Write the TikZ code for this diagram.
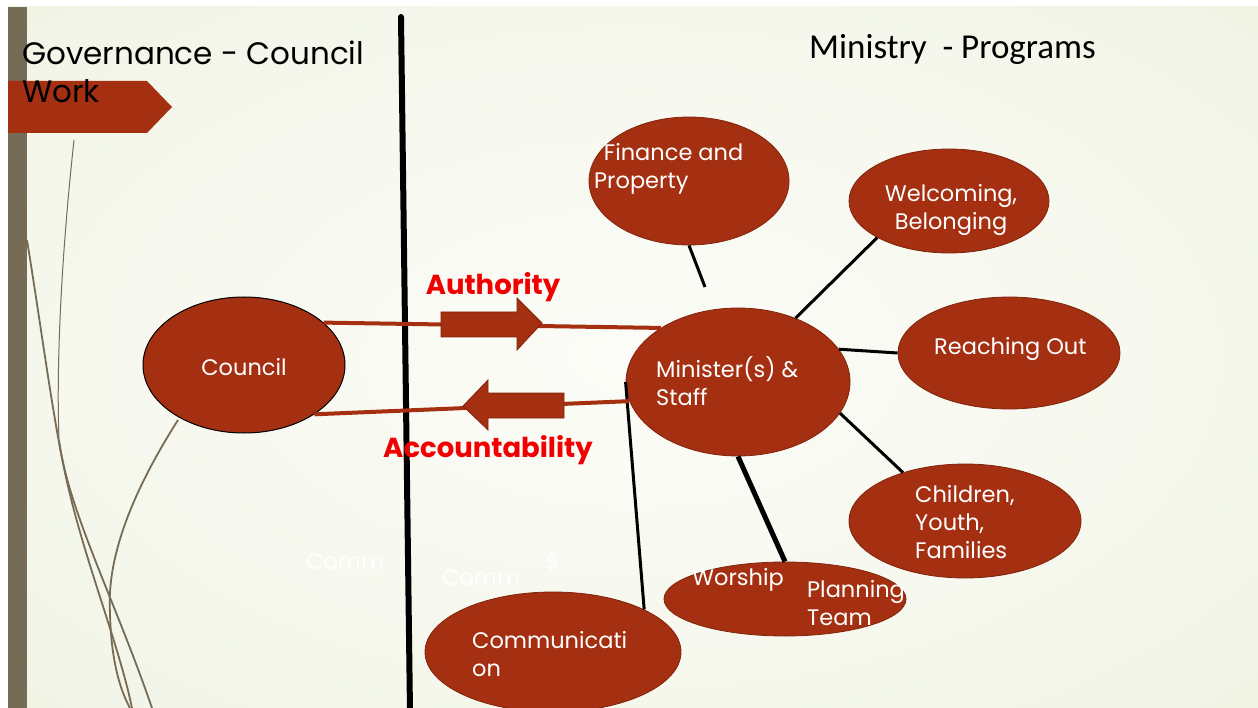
\documentclass[tikz,border=0pt]{standalone}
\usepackage{fontspec}
\setmainfont{Poppins}
\newfontfamily\calib{Carlito}
\usetikzlibrary{shapes.geometric,calc}
\definecolor{brick}{RGB}{165,47,17}
\definecolor{brickdark}{RGB}{128,36,14}
\definecolor{taupe}{RGB}{118,107,84}
\definecolor{bgcA}{RGB}{251,252,247}
\definecolor{bgcB}{RGB}{246,248,238}
\definecolor{bgcC}{RGB}{235,239,219}
\definecolor{bgcD}{RGB}{222,229,192}
\definecolor{hotred}{RGB}{240,0,0}
\pgfdeclareradialshading{slidebg}{\pgfpoint{0bp}{0bp}}{color(0bp)=(bgcA); color(22bp)=(bgcB); color(48bp)=(bgcC); color(72bp)=(bgcD)}
\begin{document}
\begin{tikzpicture}[x=1pt,y=-1pt,
  ell/.style={ellipse, fill=brick, draw=brickdark, line width=0.8pt, inner sep=0pt},
  etext/.style={text=white, font=\fontsize{22.5}{28}\selectfont, align=left, inner sep=0pt},
  spoke/.style={line width=3pt, black},
  band/.style={line width=4pt, brick},
  blockarrow/.style={fill=brick, draw=brickdark, line width=0.8pt},
  grass/.style={taupe, line width=1.8pt},
  redlabel/.style={text=hotred, font=\fontsize{27.5}{32}\selectfont\bfseries, inner sep=0pt},
  faint/.style={text=white, font=\fontsize{22.5}{28}\selectfont, inner sep=0pt, anchor=west}
]
\useasboundingbox (0,0) rectangle (1258,708);
\fill[white] (0,0) rectangle (1258,708);
\shade[shading=slidebg] (8,7) rectangle (1258,708);
\fill[taupe] (8,7) rectangle (27,708);

% grass curves
\draw[taupe, line width=1pt] (74,140) .. controls (62,250) and (56,360) .. (59,440);
\draw[grass] (59,440) .. controls (68,510) and (115,600) .. (152,708);
\draw[grass] (27,240) .. controls (40,320) and (52,410) .. (63,463) .. controls (80,550) and (118,640) .. (132,708);
\draw[grass] (178,420) .. controls (140,480) and (106,550) .. (110,613) .. controls (111,660) and (120,690) .. (130,708);

% banner
\fill[brick] (8,81) -- (147,81) -- (172,107) -- (147,133) -- (8,133) -- cycle;
\node[anchor=west, inner sep=0pt, font=\fontsize{31}{38}\selectfont, align=left] (title) at (22,72) {Governance - Council\\Work};
\node[anchor=west, inner sep=0pt, font=\calib\fontsize{35}{40}\selectfont] (ministry) at (809,49) {Ministry \ - Programs};

% divider
\draw[line width=6pt, line cap=round] (401,17) -- (410,712);

% ellipses
\node[ell, draw=black, line width=1pt, minimum width=202pt, minimum height=136pt] (council) at (244,365) {};
\node[ell, minimum width=224pt, minimum height=148pt] (min) at (738,382) {};
\node[ell, minimum width=200pt, minimum height=128pt] (fin) at (689,181) {};
\node[ell, minimum width=200pt, minimum height=104pt] (wel) at (949,201) {};
\node[ell, minimum width=222pt, minimum height=112pt] (reach) at (1009,353) {};
\node[ell, minimum width=232pt, minimum height=114pt] (child) at (965,521) {};
\node[ell, minimum width=242pt, minimum height=74pt] (wor) at (785,599) {};
\node[ell, minimum width=256pt, minimum height=120pt] (com) at (553,652) {};

% ellipse texts
\node[etext] (tcouncil) at (244,367) {Council};
\node[etext, anchor=west] (tmin) at (656,381) {Minister(s) \&\\Staff};
\node[etext, anchor=west] (tfin) at (594,169) {\ \,Finance and\\Property};
\node[etext, align=center] (twel) at (951,210) {Welcoming,\\Belonging};
\node[etext, anchor=west] (treach) at (934,349) {Reaching Out};
\node[etext, anchor=west] (tchild) at (915,522) {Children,\\Youth,\\Families};
\node[etext, anchor=west] (twor) at (692,580) {Worship};
\node[etext, anchor=west] (tplan) at (807,603) {Planning\\Team};
\node[etext, anchor=west] (tcom) at (472,654) {Communicati\\on};

% faint texts
\node[faint] (fc1) at (306,562) {Comm};
\node[faint] (fc2) at (442,578) {Comm};
\node[faint] (fc3) at (545,562) {\$};

% spokes
\coordinate (finend) at (705,287);
\draw[spoke] (fin.south) -- (finend);
\draw[spoke] (min.48) -- (wel.207);
\draw[spoke] (min.18) -- (reach.west);
\draw[spoke] (min.343) -- (child.142);
\draw[line width=5pt] (min.south) -- (wor.north);
\draw[spoke] (min.west) -- (com.25);

% authority / accountability
\draw[band] (council.28) -- (min.145);
\draw[band] (council.325) -- (min.190.5);
\draw[blockarrow] (441,312) -- (517,312) -- (517,298) -- (542,323) -- (517,350) -- (517,337) -- (441,337) -- cycle;
\draw[blockarrow] (564,393) -- (488,393) -- (488,380) -- (463,406) -- (488,430) -- (488,418) -- (564,418) -- cycle;
\node[redlabel] (auth) at (493,287) {Authority};
\node[redlabel] (acc) at (488,450) {Accountability};
\end{tikzpicture}
\end{document}
